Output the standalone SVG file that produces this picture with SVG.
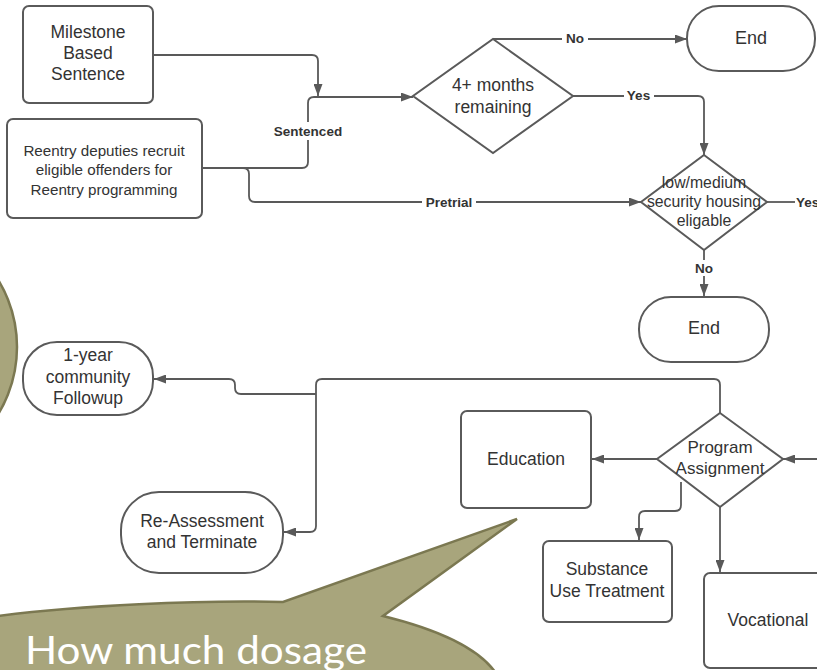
<svg xmlns="http://www.w3.org/2000/svg" width="817" height="670" viewBox="0 0 817 670">
<defs>
<marker id="arr" viewBox="0 0 12 9" markerWidth="12" markerHeight="9" refX="12" refY="4.5" orient="auto" markerUnits="userSpaceOnUse">
<path d="M0,0 L12,4.5 L0,9 z" fill="#595959"/>
</marker>
<style>
.box{fill:#fff;stroke:#5a5a5a;stroke-width:2}
.t{font-family:"Liberation Sans",Arial,sans-serif;fill:#333;text-anchor:middle}
.lbl{font-family:"Liberation Sans",Arial,sans-serif;font-weight:bold;font-size:13.5px;fill:#333;text-anchor:middle}
.lb{fill:#fff}
.c{fill:none;stroke:#595959;stroke-width:1.8}
.ca{fill:none;stroke:#595959;stroke-width:1.8;marker-end:url(#arr)}
.olive{fill:#a8a57c;stroke:#7b7851;stroke-width:2.5}
</style>
</defs>
<rect width="817" height="670" fill="#fff"/>

<circle class="olive" cx="-112" cy="347" r="129"/>

<g id="connectors">
<path class="ca" d="M153,55 H312 Q318,55 318,61 V96"/>
<path class="ca" d="M202,168 H302 Q308,168 308,162 V103 Q308,97 314,97 H413"/>
<path class="ca" d="M202,168 H243 Q249,168 249,174 V196 Q249,202 255,202 H641"/>
<path class="ca" d="M493,39 H687"/>
<path class="ca" d="M573,96 H698 Q704,96 704,102 V155"/>
<path class="c" d="M767,202 H795"/>
<path class="ca" d="M704,250 V296"/>
<path class="ca" d="M720,413 V385 Q720,379 714,379 H322 Q316,379 316,385 V526 Q316,532 310,532 H284"/>
<path class="ca" d="M316,394 H241 Q235,394 235,388 V385 Q235,379 229,379 H154"/>
<path class="ca" d="M817,459 H783"/>
<path class="ca" d="M657,459 H592"/>
<path class="ca" d="M681,482 V505 Q681,511 675,511 H645 Q639,511 639,517 V540"/>
<path class="ca" d="M720,507 V572"/>
<rect class="lb" x="268" y="122" width="80" height="18"/>
<text class="lbl" x="308" y="136">Sentenced</text>
<rect class="lb" x="422" y="194" width="54" height="16"/>
<text class="lbl" x="449" y="207">Pretrial</text>
<rect class="lb" x="562" y="31" width="26" height="16"/>
<text class="lbl" x="575" y="43">No</text>
<rect class="lb" x="624" y="88" width="30" height="16"/>
<text class="lbl" x="638.5" y="100">Yes</text>
<rect class="lb" x="795" y="194" width="24" height="16"/>
<text class="lbl" x="796" y="207" style="text-anchor:start">Yes</text>
<rect class="lb" x="691" y="260" width="26" height="16"/>
<text class="lbl" x="704" y="273">No</text>
</g>

<g id="milestone">
<rect class="box" x="23" y="6" width="130" height="97" rx="6"/>
<text class="t" font-size="17.5"><tspan x="88" y="38">Milestone</tspan><tspan x="88" y="59">Based</tspan><tspan x="88" y="80">Sentence</tspan></text>
</g>
<g id="reentry">
<rect class="box" x="7" y="119" width="195" height="99" rx="6"/>
<text class="t" font-size="15.2"><tspan x="104" y="155.5">Reentry deputies recruit</tspan><tspan x="104" y="174.5">eligible offenders for</tspan><tspan x="104" y="194.5">Reentry programming</tspan></text>
</g>
<g id="months">
<polygon class="box" points="493,39 573,96 493,153 413,96"/>
<text class="t" font-size="17.5"><tspan x="493" y="91">4+ months</tspan><tspan x="493" y="113">remaining</tspan></text>
</g>
<g id="end1">
<rect class="box" x="687" y="6" width="128" height="65" rx="32"/>
<text class="t" font-size="18" x="751" y="43.5">End</text>
</g>
<g id="security">
<polygon class="box" points="704,155 767,202 704,250 641,202"/>
<text class="t" font-size="15.8"><tspan x="704" y="187.5">low/medium</tspan><tspan x="704" y="206.5">security housing</tspan><tspan x="704" y="225.5">eligable</tspan></text>
</g>
<g id="end2">
<rect class="box" x="639" y="297" width="130" height="65" rx="32"/>
<text class="t" font-size="18" x="704" y="333.5">End</text>
</g>
<g id="followup">
<rect class="box" x="23" y="342" width="130" height="73" rx="34"/>
<text class="t" font-size="17.5"><tspan x="88" y="361">1-year</tspan><tspan x="88" y="383">community</tspan><tspan x="88" y="404">Followup</tspan></text>
</g>
<g id="reassess">
<rect class="box" x="121" y="492" width="162" height="81" rx="38"/>
<text class="t" font-size="17.5"><tspan x="202" y="527">Re-Assessment</tspan><tspan x="202" y="548">and Terminate</tspan></text>
</g>
<g id="program">
<polygon class="box" points="720,413 783,459 720,507 657,459"/>
<text class="t" font-size="17"><tspan x="720" y="453">Program</tspan><tspan x="720" y="474">Assignment</tspan></text>
</g>
<g id="education">
<rect class="box" x="461" y="411" width="130" height="97" rx="6"/>
<text class="t" font-size="17.5" x="526" y="465">Education</text>
</g>
<g id="substance">
<rect class="box" x="543" y="541" width="129" height="81" rx="6"/>
<text class="t" font-size="17.5"><tspan x="607" y="575">Substance</tspan><tspan x="607" y="597">Use Treatment</tspan></text>
</g>
<g id="vocational">
<rect class="box" x="704" y="573" width="130" height="95" rx="6"/>
<text class="t" font-size="17.5" x="768" y="626">Vocational</text>
</g>

<g id="bubble">
<path class="olive" d="M-10,617 C80,605 200,600 283,602 L517,519 L383,616 C440,630 485,650 500,680 L-10,680 Z"/>
<text x="25" y="664" font-family="Lato,'Open Sans',sans-serif" font-size="38" fill="#fff" textLength="342" lengthAdjust="spacingAndGlyphs">How much dosage</text>
</g>
</svg>
